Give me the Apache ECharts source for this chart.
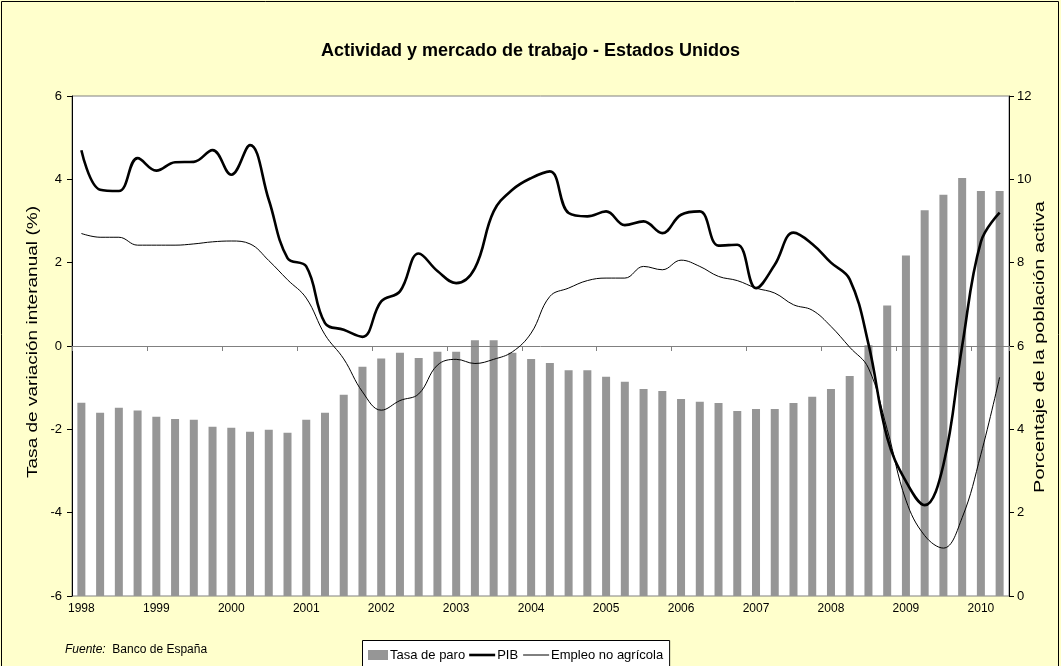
<!DOCTYPE html>
<html>
<head>
<meta charset="utf-8">
<script src="https://cdn.jsdelivr.net/npm/echarts@6/dist/echarts.min.js"></script>
<style>
html,body{margin:0;padding:0;background:#FFFFCC;}
#c{width:1061px;height:666px;}
</style>
</head>
<body>
<div id="c"></div>
<script>
var categories = [];
var years = ['1998','1999','2000','2001','2002','2003','2004','2005','2006','2007','2008','2009','2010'];
years.forEach(function(y){ ['I','II','III','IV'].forEach(function(q){ categories.push(y + ' ' + q); }); });
categories = categories.slice(0, 50);

var tasaParo = [4.64,4.40,4.52,4.45,4.30,4.25,4.23,4.06,4.04,3.94,3.99,3.92,4.23,4.40,4.83,5.50,5.70,5.84,5.71,5.86,5.86,6.14,6.14,5.84,5.69,5.59,5.42,5.42,5.26,5.14,4.97,4.92,4.73,4.66,4.63,4.44,4.49,4.49,4.63,4.78,4.97,5.28,6.02,6.97,8.17,9.26,9.63,10.03,9.72,9.72];
var pib = [4.70,3.75,3.72,4.51,4.21,4.41,4.42,4.70,4.11,4.82,3.51,2.11,1.91,0.55,0.39,0.22,1.07,1.31,2.22,1.80,1.51,1.87,3.23,3.75,4.03,4.19,3.19,3.11,3.23,2.90,2.99,2.71,3.15,3.23,2.41,2.43,1.39,1.95,2.72,2.45,2.00,1.60,0.05,-2.20,-3.25,-3.82,-2.85,0.00,2.50,3.20];
var empleo = [2.70,2.61,2.61,2.42,2.42,2.42,2.45,2.50,2.52,2.45,2.05,1.59,1.15,0.27,-0.31,-1.10,-1.54,-1.31,-1.15,-0.46,-0.32,-0.42,-0.32,-0.14,0.31,1.19,1.39,1.57,1.63,1.63,1.91,1.83,2.06,1.91,1.67,1.57,1.39,1.27,0.99,0.86,0.47,-0.03,-0.53,-2.00,-3.70,-4.55,-4.85,-4.12,-2.60,-0.75];

var seriesNames = ['Tasa de paro', 'PIB', 'Empleo no agrícola'];
var axisTitles = ['Tasa de variación interanual (%)', 'Porcentaje de la población activa'];

var FONT = "'Liberation Sans', Arial, sans-serif";
var LEG_FS = 13;
var chart = echarts.init(document.getElementById('c'));

// legend drawn as graphic (layout computed from text widths)
var ctx = document.createElement('canvas').getContext('2d');
ctx.font = LEG_FS + 'px ' + FONT;
function w(t){ return ctx.measureText(t).width; }
var lx = 362, ly = 640, lh = 30, cy = ly + 15;
var x = lx + 6;
var leg = [];
leg.push({type:'rect', shape:{x:x, y:cy-5, width:20, height:10}, style:{fill:'#969696'}});
x += 22;
leg.push({type:'text', x:x, y:cy, style:{text:seriesNames[0], font: LEG_FS+'px '+FONT, fill:'#000', textVerticalAlign:'middle'}});
x += w(seriesNames[0]) + 4;
leg.push({type:'line', shape:{x1:x, y1:cy, x2:x+26, y2:cy}, style:{stroke:'#000', lineWidth:2.6}});
x += 28;
leg.push({type:'text', x:x, y:cy, style:{text:seriesNames[1], font: LEG_FS+'px '+FONT, fill:'#000', textVerticalAlign:'middle'}});
x += w(seriesNames[1]) + 5;
leg.push({type:'line', shape:{x1:x, y1:cy, x2:x+26, y2:cy}, style:{stroke:'#000', lineWidth:1}});
x += 28;
leg.push({type:'text', x:x, y:cy, style:{text:seriesNames[2], font: LEG_FS+'px '+FONT, fill:'#000', textVerticalAlign:'middle'}});
x += w(seriesNames[2]) + 6;
leg.unshift({type:'rect', shape:{x:lx+0.5, y:ly+0.5, width:x-lx, height:lh}, style:{fill:'#FFFFFF', stroke:'#000', lineWidth:1}});

chart.setOption({
  backgroundColor: '#FFFFCC',
  animation: false,
  textStyle: {fontFamily: FONT},
  title: {
    text: 'Actividad y mercado de trabajo - Estados Unidos',
    left: 'center', top: 37,
    textStyle: {fontFamily: FONT, fontSize: 18, fontWeight: 'bold', color: '#000'}
  },
  grid: {
    left: 72, right: 52, top: 96, bottom: 70, containLabel: false, outerBoundsMode: 'none',
    show: true, backgroundColor: '#FFFFFF', borderColor: '#808080', borderWidth: 1
  },
  xAxis: [{
    type: 'category', data: categories, boundaryGap: true, z: 3,
    axisLine: {onZero: true, onZeroAxisIndex: 0, lineStyle: {color: '#808080', width: 1}},
    axisTick: {show: true, interval: 3, length: 5, lineStyle: {color: '#808080'}},
    axisLabel: {show: false}
  }, {
    type: 'category', data: categories, boundaryGap: true, position: 'bottom',
    axisLine: {show: false, onZero: false},
    axisTick: {show: false},
    axisLabel: {interval: 3, margin: 7, fontSize: 12, color: '#000', fontFamily: FONT,
      formatter: function(v){ return v.slice(0, 4); }}
  }],
  yAxis: [{
    type: 'value', min: -6, max: 6, interval: 2, position: 'left',
    axisLine: {show: true, lineStyle: {color: '#000'}},
    axisTick: {show: true, length: 5, lineStyle: {color: '#000'}},
    axisLabel: {fontSize: 13, color: '#000', margin: 10},
    splitLine: {show: false}
  }, {
    type: 'value', min: 0, max: 12, interval: 2, position: 'right',
    axisLine: {show: true, lineStyle: {color: '#000'}},
    axisTick: {show: true, length: 5, lineStyle: {color: '#000'}},
    axisLabel: {fontSize: 13, color: '#000', margin: 8},
    splitLine: {show: false}
  }],
  series: [{
    name: seriesNames[0], type: 'bar', xAxisIndex: 0, yAxisIndex: 1,
    data: tasaParo, barWidth: 8, itemStyle: {color: '#969696'}, z: 2
  }, {
    name: seriesNames[1], type: 'line', xAxisIndex: 0, yAxisIndex: 0,
    data: pib, smooth: 0.4, symbol: 'none', z: 5,
    lineStyle: {color: '#000', width: 2.6}, itemStyle: {color: '#000'}
  }, {
    name: seriesNames[2], type: 'line', xAxisIndex: 0, yAxisIndex: 0,
    data: empleo, smooth: 0.4, symbol: 'none', z: 5,
    lineStyle: {color: '#000', width: 1}, itemStyle: {color: '#000'}
  }],
  graphic: [{
    type: 'rect', silent: true, z: -1,
    shape: {x: 1.5, y: 1.5, width: 1057, height: 670},
    style: {fill: 'none', stroke: '#000', lineWidth: 1}
  }, {
    type: 'text', x: 33, y: 342, rotation: Math.PI / 2, scaleX: 1.36,
    style: {text: axisTitles[0], font: '14px ' + FONT, fill: '#000', textAlign: 'center', textVerticalAlign: 'middle'}
  }, {
    type: 'text', x: 1040, y: 347, rotation: Math.PI / 2, scaleX: 1.42,
    style: {text: axisTitles[1], font: '14px ' + FONT, fill: '#000', textAlign: 'center', textVerticalAlign: 'middle'}
  }, {
    type: 'text', left: 65, top: 644,
    style: {
      text: '{i|Fuente:}  Banco de España',
      rich: {i: {fontStyle: 'italic', fontSize: 12, fontFamily: FONT, fill: '#000'}},
      fontSize: 12, fontFamily: FONT, fill: '#000'
    }
  }, {
    type: 'group', children: leg
  }]
});
</script>
</body>
</html>
